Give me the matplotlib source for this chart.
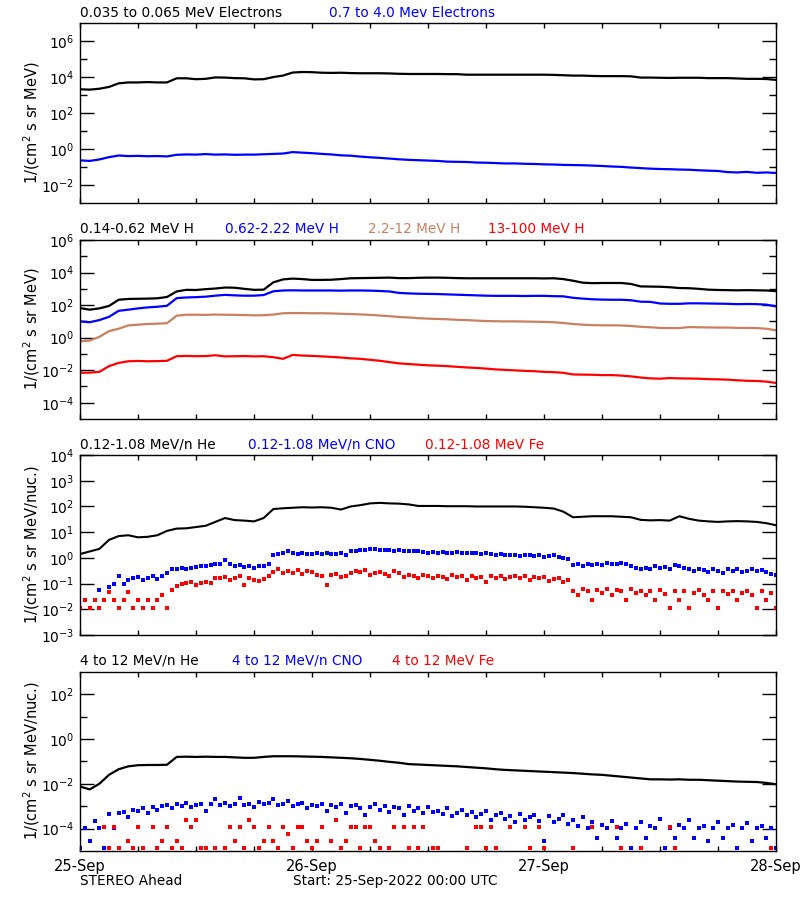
import numpy as np
import matplotlib
matplotlib.use('Agg')
import matplotlib.pyplot as plt
from matplotlib.ticker import FixedLocator, FixedFormatter, NullFormatter

# hourly samples (log10 of flux), 25-Sep 00:00 to 28-Sep 00:00
hours = np.arange(73)
half = np.arange(145) / 2.0

e_lo = [3.32, 3.30, 3.35, 3.45, 3.65, 3.70, 3.70, 3.72, 3.70, 3.70,
        3.93, 3.93, 3.88, 3.90, 3.98, 3.97, 3.94, 3.93, 3.87, 3.88,
        4.00, 4.08, 4.25, 4.28, 4.27, 4.24, 4.23, 4.24, 4.22, 4.21,
        4.21, 4.21, 4.20, 4.18, 4.17, 4.17, 4.17, 4.17, 4.16, 4.16,
        4.13, 4.13, 4.13, 4.13, 4.13, 4.13, 4.13, 4.13, 4.13, 4.12,
        4.10, 4.08, 4.08, 4.06, 4.05, 4.05, 4.05, 4.04, 3.97, 3.97,
        3.96, 3.95, 3.96, 3.96, 3.96, 3.94, 3.94, 3.94, 3.92, 3.90,
        3.90, 3.89, 3.84]
e_hi = [-0.63, -0.66, -0.58, -0.45, -0.36, -0.39, -0.38, -0.40, -0.39, -0.41,
        -0.32, -0.30, -0.31, -0.28, -0.31, -0.30, -0.32, -0.31, -0.31, -0.29,
        -0.27, -0.25, -0.17, -0.20, -0.23, -0.27, -0.30, -0.35, -0.37, -0.42,
        -0.46, -0.49, -0.53, -0.57, -0.60, -0.62, -0.64, -0.66, -0.70, -0.71,
        -0.72, -0.75, -0.76, -0.78, -0.80, -0.80, -0.82, -0.83, -0.85, -0.86,
        -0.88, -0.89, -0.90, -0.92, -0.94, -0.97, -0.99, -1.03, -1.06, -1.09,
        -1.11, -1.12, -1.14, -1.15, -1.18, -1.20, -1.22, -1.28, -1.30, -1.27,
        -1.32, -1.30, -1.33]

p_1 = [1.82, 1.72, 1.80, 1.95, 2.33, 2.38, 2.39, 2.40, 2.42, 2.50,
       2.84, 2.94, 2.93, 2.98, 3.02, 3.08, 3.07, 3.00, 2.94, 2.95,
       3.40, 3.58, 3.63, 3.60, 3.55, 3.55, 3.56, 3.60, 3.65, 3.66,
       3.67, 3.68, 3.69, 3.66, 3.66, 3.68, 3.69, 3.69, 3.68, 3.66,
       3.65, 3.65, 3.65, 3.65, 3.65, 3.65, 3.65, 3.65, 3.64, 3.65,
       3.60, 3.50, 3.38, 3.35, 3.36, 3.36, 3.36, 3.30, 3.15, 3.14,
       3.13, 3.10, 3.05, 3.04, 3.00, 2.95, 2.93, 2.92, 2.91, 2.92,
       2.91, 2.90, 2.86]
p_2 = [1.00, 0.95, 1.08, 1.28, 1.65, 1.72, 1.80, 1.86, 1.90, 1.96,
       2.43, 2.47, 2.49, 2.52, 2.58, 2.63, 2.60, 2.58, 2.58, 2.62,
       2.85, 2.90, 2.91, 2.90, 2.90, 2.90, 2.90, 2.89, 2.90, 2.90,
       2.89, 2.87, 2.84, 2.75, 2.72, 2.70, 2.69, 2.68, 2.66, 2.64,
       2.62, 2.60, 2.58, 2.57, 2.57, 2.57, 2.56, 2.57, 2.57, 2.55,
       2.54, 2.45, 2.40, 2.36, 2.34, 2.33, 2.33, 2.30, 2.21, 2.20,
       2.10, 2.08, 2.08, 2.11, 2.11, 2.10, 2.09, 2.08, 2.06, 2.07,
       2.06, 2.03, 1.92]
p_3 = [-0.22, -0.18, 0.05, 0.40, 0.55, 0.75, 0.80, 0.84, 0.86, 0.89,
       1.35, 1.41, 1.41, 1.40, 1.42, 1.41, 1.40, 1.39, 1.37, 1.38,
       1.42, 1.50, 1.51, 1.51, 1.50, 1.50, 1.49, 1.47, 1.45, 1.43,
       1.40, 1.36, 1.32, 1.27, 1.24, 1.20, 1.17, 1.15, 1.13, 1.10,
       1.08, 1.05, 1.02, 1.01, 1.00, 1.00, 0.99, 0.98, 0.97, 0.95,
       0.90, 0.84, 0.80, 0.77, 0.76, 0.76, 0.75, 0.72, 0.67, 0.64,
       0.60, 0.59, 0.59, 0.65, 0.64, 0.63, 0.62, 0.62, 0.60, 0.60,
       0.59, 0.55, 0.45]
p_4 = [-2.16, -2.15, -2.10, -1.75, -1.55, -1.45, -1.43, -1.45, -1.44, -1.42,
       -1.14, -1.12, -1.14, -1.13, -1.08, -1.15, -1.14, -1.13, -1.15, -1.14,
       -1.20, -1.30, -1.06, -1.10, -1.12, -1.15, -1.18, -1.22, -1.27, -1.30,
       -1.36, -1.42, -1.50, -1.58, -1.62, -1.66, -1.70, -1.72, -1.75, -1.79,
       -1.83, -1.86, -1.90, -1.95, -1.98, -2.01, -2.04, -2.06, -2.10, -2.12,
       -2.16, -2.26, -2.27, -2.28, -2.30, -2.30, -2.33, -2.38, -2.45, -2.50,
       -2.52, -2.48, -2.50, -2.51, -2.52, -2.55, -2.56, -2.58, -2.62, -2.65,
       -2.66, -2.70, -2.78]

he_lo = [0.15, 0.25, 0.35, 0.70, 0.85, 0.88, 0.80, 0.82, 0.88, 1.05,
         1.14, 1.15, 1.20, 1.25, 1.40, 1.55, 1.47, 1.45, 1.42, 1.55,
         1.90, 1.93, 1.95, 1.97, 1.96, 1.97, 1.95, 1.88, 2.00, 2.05,
         2.12, 2.14, 2.12, 2.11, 2.08, 2.02, 2.02, 2.02, 2.01, 2.01,
         2.01, 2.00, 2.00, 2.00, 2.00, 2.00, 1.99, 1.97, 1.95, 1.92,
         1.80, 1.58, 1.60, 1.62, 1.62, 1.62, 1.60, 1.58, 1.48, 1.46,
         1.47, 1.45, 1.62, 1.52, 1.45, 1.42, 1.40, 1.42, 1.43, 1.42,
         1.40, 1.35, 1.27]

# half-hourly samples for the sparse heavy-ion channels
cno_lo = [-1.95, -1.65, -1.95, -1.65, -1.26, -1.65, -1.13, -1.00, -0.70, -1.00,
          -0.85, -0.80, -0.75, -0.86, -0.80, -0.72, -0.82, -0.70, -0.60, -0.45,
          -0.42, -0.38, -0.45, -0.40, -0.36, -0.33, -0.30, -0.28, -0.25, -0.22,
          -0.10, -0.25, -0.30, -0.28, -0.35, -0.33, -0.38, -0.30, -0.32, -0.25,
          0.12, 0.15, 0.20, 0.25, 0.18, 0.15, 0.20, 0.17, 0.15, 0.18,
          0.16, 0.18, 0.17, 0.15, 0.18, 0.10, 0.25, 0.28, 0.30, 0.32,
          0.36, 0.33, 0.32, 0.30, 0.31, 0.28, 0.30, 0.27, 0.28, 0.25,
          0.26, 0.22, 0.20, 0.21, 0.19, 0.22, 0.20, 0.18, 0.21, 0.19,
          0.20, 0.18, 0.20, 0.17, 0.19, 0.16, 0.12, 0.14, 0.10, 0.13,
          0.10, 0.08, 0.11, 0.10, 0.06, 0.12, 0.05, 0.08, 0.10, 0.02,
          0.00, -0.05, -0.28, -0.25, -0.30, -0.22, -0.27, -0.24, -0.28, -0.20,
          -0.25, -0.22, -0.19, -0.25, -0.30, -0.40, -0.45, -0.38, -0.42, -0.30,
          -0.40, -0.35, -0.45, -0.28, -0.32, -0.40, -0.45, -0.50, -0.42, -0.48,
          -0.55, -0.45, -0.50, -0.60, -0.45, -0.50, -0.42, -0.55, -0.50, -0.45,
          -0.52, -0.48, -0.55, -0.62, -0.67]
fe_lo = [-1.95, -1.65, -1.95, -1.65, -1.95, -1.65, -1.33, -1.65, -1.95, -1.65,
         -1.33, -1.95, -1.65, -1.95, -1.65, -1.95, -1.65, -1.45, -1.95, -1.26,
         -1.10, -1.00, -0.97, -0.95, -1.05, -0.97, -0.92, -0.97, -0.80, -0.77,
         -0.75, -0.85, -0.78, -0.72, -1.05, -0.80, -0.85, -0.90, -0.82, -0.70,
         -0.55, -0.45, -0.60, -0.52, -0.58, -0.48, -0.62, -0.50, -0.55, -0.65,
         -0.70, -1.05, -0.68, -0.62, -0.75, -0.70, -0.60, -0.50, -0.55, -0.48,
         -0.65, -0.58, -0.55, -0.62, -0.70, -0.52, -0.60, -0.75, -0.68, -0.72,
         -0.78, -0.66, -0.72, -0.80, -0.70, -0.75, -0.82, -0.68, -0.76, -0.72,
         -0.85, -0.70, -0.78, -0.74, -0.95, -0.72, -0.78, -0.70, -0.82, -0.75,
         -0.70, -0.80, -0.72, -0.85, -0.76, -0.80, -0.74, -0.90, -0.82, -0.78,
         -0.95, -0.85, -1.28, -1.45, -1.20, -1.30, -1.65, -1.25, -1.35, -1.20,
         -1.45, -1.25, -1.30, -1.65, -1.22, -1.35, -1.28, -1.45, -1.30, -1.65,
         -1.25, -1.40, -1.95, -1.30, -1.65, -1.28, -1.95, -1.35, -1.25, -1.45,
         -1.65, -1.30, -1.95, -1.28, -1.40, -1.30, -1.65, -1.35, -1.28, -1.45,
         -1.95, -1.30, -1.65, -1.35, -1.95]

he_hi = [-2.12, -2.25, -2.00, -1.60, -1.35, -1.22, -1.17, -1.16, -1.16, -1.15,
         -0.80, -0.79, -0.80, -0.79, -0.80, -0.80, -0.82, -0.84, -0.84, -0.80,
         -0.77, -0.77, -0.77, -0.78, -0.79, -0.80, -0.82, -0.84, -0.86, -0.89,
         -0.93, -0.97, -1.02, -1.06, -1.12, -1.14, -1.16, -1.18, -1.20, -1.22,
         -1.25, -1.28, -1.31, -1.35, -1.38, -1.40, -1.42, -1.44, -1.46, -1.48,
         -1.50, -1.52, -1.55, -1.58, -1.60, -1.64, -1.68, -1.72, -1.76, -1.80,
         -1.80, -1.81, -1.80, -1.82, -1.82, -1.84, -1.86, -1.88, -1.90, -1.91,
         -1.92, -1.96, -2.02]
cno_hi = [-4.87, -3.96, -4.55, -3.67, -3.96, -4.87, -3.35, -3.96, -3.30, -3.25,
          -3.50, -3.15, -3.20, -3.10, -3.30, -3.05, -3.15, -3.00, -2.95, -3.10,
          -2.90, -3.00, -2.85, -3.05, -2.95, -2.88, -3.20, -2.92, -2.70, -2.95,
          -2.85, -3.00, -2.90, -2.62, -2.95, -2.88, -3.05, -2.80, -2.92, -2.85,
          -2.70, -2.95, -2.90, -2.75, -3.00, -2.92, -2.85, -3.10, -2.95, -3.00,
          -2.88, -3.20, -2.95, -3.05, -2.92, -3.30, -3.00, -2.95, -3.10, -3.40,
          -3.05, -2.90, -3.15, -3.00, -3.25, -3.05, -3.10, -3.40, -3.00, -3.20,
          -3.10, -3.30, -3.05, -3.25, -3.20, -3.35, -3.10, -3.45, -3.30, -3.15,
          -3.40, -3.25, -3.50, -3.35, -3.20, -3.60, -3.40, -3.30, -3.55, -3.45,
          -3.70, -3.35, -3.60, -3.50, -3.40, -3.65, -4.55, -3.45, -3.70, -3.55,
          -3.40, -3.80, -3.60, -3.90, -3.50, -3.96, -3.70, -4.40, -3.85, -3.96,
          -3.65, -4.40, -3.96, -3.80, -4.87, -3.96, -3.70, -4.40, -3.90, -3.96,
          -3.55, -4.87, -3.96, -4.40, -3.85, -3.96, -3.60, -4.40, -3.96, -3.90,
          -4.55, -3.96, -3.70, -4.40, -3.96, -3.85, -4.87, -3.96, -3.75, -4.55,
          -3.96, -3.90, -4.40, -3.96, -4.87]
nan = np.nan
fe_hi = [nan, nan, nan, nan, nan, -3.93, -4.87, -3.93, -4.87, nan,
         -4.55, -4.87, -3.93, -4.87, nan, -3.93, -4.87, -4.55, -3.93, -4.87,
         -4.55, -4.87, -3.62, -3.93, -3.62, -4.87, -4.87, nan, -4.87, nan,
         -4.87, -3.93, -4.55, -3.93, -4.87, -3.62, -3.93, -4.87, -4.55, -3.93,
         -4.55, -4.87, -3.93, -4.25, -4.87, -3.93, -3.93, -4.55, -4.87, -4.55,
         -3.93, nan, -4.55, -3.62, -4.87, -4.55, -3.93, -3.93, -4.87, -3.93,
         -3.93, -4.55, -4.87, nan, -4.87, -3.93, nan, -3.93, -4.87, -3.93,
         -4.87, -3.93, nan, -4.87, -4.87, nan, nan, nan, nan, nan,
         -4.87, nan, -3.93, -3.93, -4.87, -3.93, -4.87, nan, nan, -3.93,
         nan, nan, -3.93, -4.87, nan, -3.93, -4.87, nan, nan, nan,
         nan, nan, -4.87, nan, nan, nan, -3.93, nan, nan, nan,
         nan, -3.93, -4.87, nan, nan, nan, -4.87, nan, nan, nan,
         nan, nan, -3.93, -4.87, nan, nan, nan, nan, nan, nan,
         nan, nan, nan, nan, nan, nan, nan, nan, nan, nan,
         nan, nan, nan, -4.87, nan]

day_labels = ['25-Sep', '26-Sep', '27-Sep', '28-Sep']
sienna = '#c8805f'

plt.rcParams['font.family'] = 'DejaVu Sans'
plt.rcParams['font.size'] = 9.8

fig = plt.figure(figsize=(8, 9), dpi=100)


def setup(ax, lo, hi, major, minor):
    ax.set_yscale('log')
    ax.set_ylim(10.0 ** lo, 10.0 ** hi)
    ax.set_xlim(0, 72)
    ax.yaxis.set_major_locator(FixedLocator([10.0 ** k for k in major]))
    ax.yaxis.set_major_formatter(FixedFormatter([r'$10^{%d}$' % k for k in major]))
    ax.yaxis.set_minor_locator(FixedLocator([10.0 ** k for k in minor]))
    ax.yaxis.set_minor_formatter(NullFormatter())
    ax.xaxis.set_major_locator(FixedLocator([0, 24, 48, 72]))
    ax.xaxis.set_minor_locator(FixedLocator([6, 12, 18, 30, 36, 42, 54, 60, 66]))
    ax.xaxis.set_major_formatter(NullFormatter())
    ax.tick_params(axis='y', which='major', direction='in', length=10, width=1,
                   left=True, right=True, labelsize=10, pad=4)
    ax.tick_params(axis='y', which='minor', direction='in', length=5, width=1,
                   left=True, right=True)
    ax.tick_params(axis='x', which='both', direction='in', length=3.6, width=1,
                   top=True, bottom=True)
    for s in ax.spines.values():
        s.set_linewidth(1.0)


def line(ax, x, y, c, lw=1.6):
    ax.plot(x, 10.0 ** np.array(y), color=c, lw=lw)


def dots(ax, x, y, c, ms=2.2):
    ax.plot(x, 10.0 ** np.array(y), 's', color=c, ms=ms, mew=0, ls='none')


# panel 1 : electrons
ax1 = fig.add_axes([0.1, 0.7744, 0.87, 0.2])
setup(ax1, -3, 7, [-2, 0, 2, 4, 6], [-1, 1, 3, 5])
line(ax1, hours, e_lo, 'black')
line(ax1, hours, e_hi, 'blue')

# panel 2 : protons
ax2 = fig.add_axes([0.1, 0.5344, 0.87, 0.1989])
setup(ax2, -5, 6, [-4, -2, 0, 2, 4, 6], [-3, -1, 1, 3, 5])
line(ax2, hours, p_1, 'black')
line(ax2, hours, p_2, 'blue')
line(ax2, hours, p_3, sienna)
line(ax2, hours, p_4, 'red')

# panel 3 : low energy heavy ions
ax3 = fig.add_axes([0.1, 0.2944, 0.87, 0.2])
setup(ax3, -3, 4, [-3, -2, -1, 0, 1, 2, 3, 4], [])
line(ax3, hours, he_lo, 'black', lw=1.5)
dots(ax3, half, cno_lo, 'blue')
dots(ax3, half, fe_lo, 'red')

# panel 4 : high energy heavy ions
ax4 = fig.add_axes([0.1, 0.0544, 0.87, 0.1992])
setup(ax4, -5, 3, [-4, -2, 0, 2], [-3, -1, 1])
line(ax4, hours, he_hi, 'black', lw=1.6)
dots(ax4, half, cno_hi, 'blue')
dots(ax4, half, fe_hi, 'red')
ax4.xaxis.set_major_formatter(FixedFormatter(day_labels))
ax4.tick_params(axis='x', which='major', labelsize=10.5, pad=6)

# channel titles above each panel
def title(px, py, s, c):
    fig.text(px / 800, 1 - py / 900, s, color=c, ha='left', va='center', fontsize=9.8)


title(80, 13, '0.035 to 0.065 MeV Electrons', 'black')
title(329, 13, '0.7 to 4.0 Mev Electrons', 'blue')
title(80, 229, '0.14-0.62 MeV H', 'black')
title(225, 229, '0.62-2.22 MeV H', 'blue')
title(368, 229, '2.2-12 MeV H', sienna)
title(488, 229, '13-100 MeV H', 'red')
title(80, 445, '0.12-1.08 MeV/n He', 'black')
title(248, 445, '0.12-1.08 MeV/n CNO', 'blue')
title(425, 445, '0.12-1.08 MeV Fe', 'red')
title(80, 661, '4 to 12 MeV/n He', 'black')
title(232, 661, '4 to 12 MeV/n CNO', 'blue')
title(392, 661, '4 to 12 MeV Fe', 'red')

ylab1 = r'1/(cm$^2$ s sr MeV)'
ylab2 = r'1/(cm$^2$ s sr MeV/nuc.)'
for py, s in [(123, ylab1), (329, ylab1), (545, ylab2), (761, ylab2)]:
    fig.text(32 / 800, 1 - py / 900, s, rotation=90, ha='center', va='center', fontsize=10.5)

title(80, 881, 'STEREO Ahead', 'black')
title(293, 881, 'Start: 25-Sep-2022 00:00 UTC', 'black')

fig.savefig('out.png', dpi=100)
